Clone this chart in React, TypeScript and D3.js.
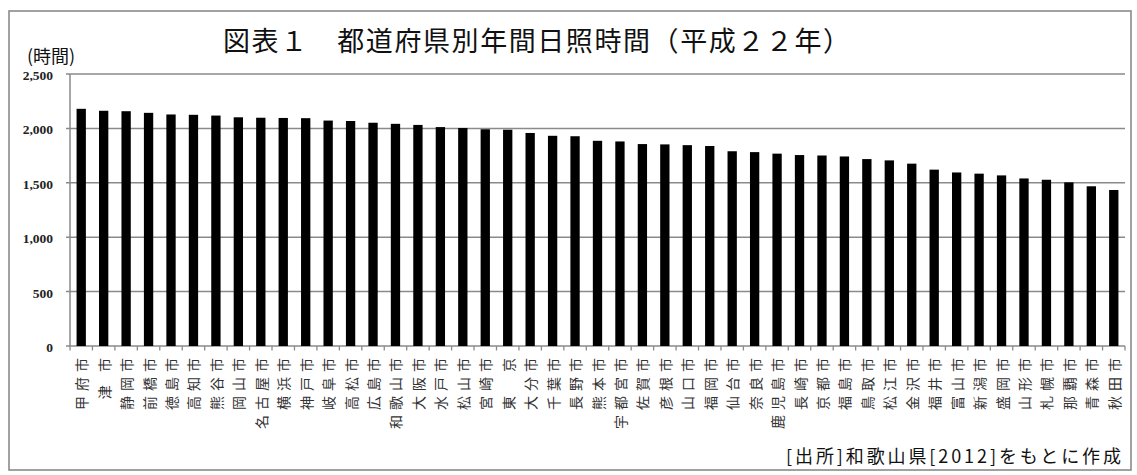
import React from "react";
import * as d3 from "d3";

const cities: string[] = [
  "甲府市", "津 市", "静岡市", "前橋市", "徳島市", "高知市", "熊谷市", "岡山市",
  "名古屋市", "横浜市", "神戸市", "岐阜市", "高松市", "広島市", "和歌山市", "大阪市",
  "水戸市", "松山市", "宮崎市", "東　京", "大分市", "千葉市", "長野市", "熊本市",
  "宇都宮市", "佐賀市", "彦根市", "山口市", "福岡市", "仙台市", "奈良市", "鹿児島市",
  "長崎市", "京都市", "福島市", "鳥取市", "松江市", "金沢市", "福井市", "富山市",
  "新潟市", "盛岡市", "山形市", "札幌市", "那覇市", "青森市", "秋田市",
];

const sunshineHours: number[] = [
  2180, 2162, 2158, 2143, 2128, 2125, 2118, 2102,
  2098, 2096, 2094, 2072, 2068, 2052, 2042, 2032,
  2012, 2004, 1992, 1988, 1958, 1932, 1928, 1886,
  1880, 1856, 1853, 1846, 1838, 1790, 1782, 1768,
  1755, 1751, 1742, 1718, 1706, 1676, 1621, 1595,
  1584, 1568, 1540, 1528, 1504, 1468, 1434,
];

const yTicks: number[] = [0, 500, 1000, 1500, 2000, 2500];

const titleText = "図表１　都道府県別年間日照時間（平成２２年）";
const yUnitText = "(時間)";
const sourceText = "[出所]和歌山県[2012]をもとに作成";

export default function App() {
  const W = 1137;
  const H = 475;
  const left = 70;
  const right = 1125;
  const top = 74;
  const bottom = 346;

  const x = d3
    .scaleBand<string>()
    .domain(cities)
    .range([left, right])
    .paddingInner(0.585)
    .paddingOuter(0.2925);

  const y = d3.scaleLinear().domain([0, 2500]).range([bottom, top]);

  const step = x.step();
  const boundaries = d3.range(cities.length + 1).map((k) => left + k * step);

  const grid = "#8a8a8a";
  const cjk = "'Noto Sans CJK JP', sans-serif";

  return (
    <svg
      width={W}
      height={H}
      style={{ position: "absolute", left: 0, top: 0, background: "#fff" }}
    >
      <rect x={9} y={11} width={1122} height={459} fill="#fff" stroke={grid} strokeWidth={1.6} />

      <text
        x={223}
        y={51}
        fontFamily={cjk}
        fontSize={27}
        textLength={627}
        lengthAdjust="spacing"
        fill="#111"
      >
        {titleText}
      </text>

      <text x={27} y={63} fontFamily={cjk} fontSize={18} fill="#111">
        {yUnitText}
      </text>

      {/* gridlines */}
      {yTicks.map((t) => (
        <g key={t}>
          <line x1={66} x2={right} y1={y(t)} y2={y(t)} stroke={grid} strokeWidth={1.5} />
          <text
            x={53}
            y={y(t) + 1.5}
            textAnchor="end"
            dominantBaseline="central"
            fontFamily="'Liberation Serif', serif"
            fontSize={13.5}
            fontWeight="bold"
            fill="#222"
          >
            {d3.format(",")(t)}
          </text>
        </g>
      ))}

      {/* y axis */}
      <line x1={left} x2={left} y1={top} y2={bottom} stroke={grid} strokeWidth={1.5} />

      {/* x-axis ticks */}
      {boundaries.map((bx, i) => (
        <line key={i} x1={bx} x2={bx} y1={bottom} y2={bottom + 4.5} stroke={grid} strokeWidth={1.3} />
      ))}

      {/* bars */}
      {cities.map((c, i) => (
        <rect
          key={c}
          x={x(c)}
          y={y(sunshineHours[i])}
          width={x.bandwidth()}
          height={bottom - y(sunshineHours[i])}
          fill="#000"
        />
      ))}

      {/* x labels */}
      {cities.map((c) => {
        const cx = (x(c) as number) + x.bandwidth() / 2;
        const y0 = 353;
        return (
          <text
            key={c}
            transform={`translate(${cx},${y0}) rotate(-90)`}
            textAnchor="end"
            dominantBaseline="central"
            fontFamily={cjk}
            fontSize={14}
            letterSpacing={5}
            fill="#333"
          >
            {c}
          </text>
        );
      })}

      <text
        x={786}
        y={463}
        fontFamily={cjk}
        fontSize={18}
        textLength={335}
        lengthAdjust="spacing"
        fill="#111"
      >
        {sourceText}
      </text>
    </svg>
  );
}
